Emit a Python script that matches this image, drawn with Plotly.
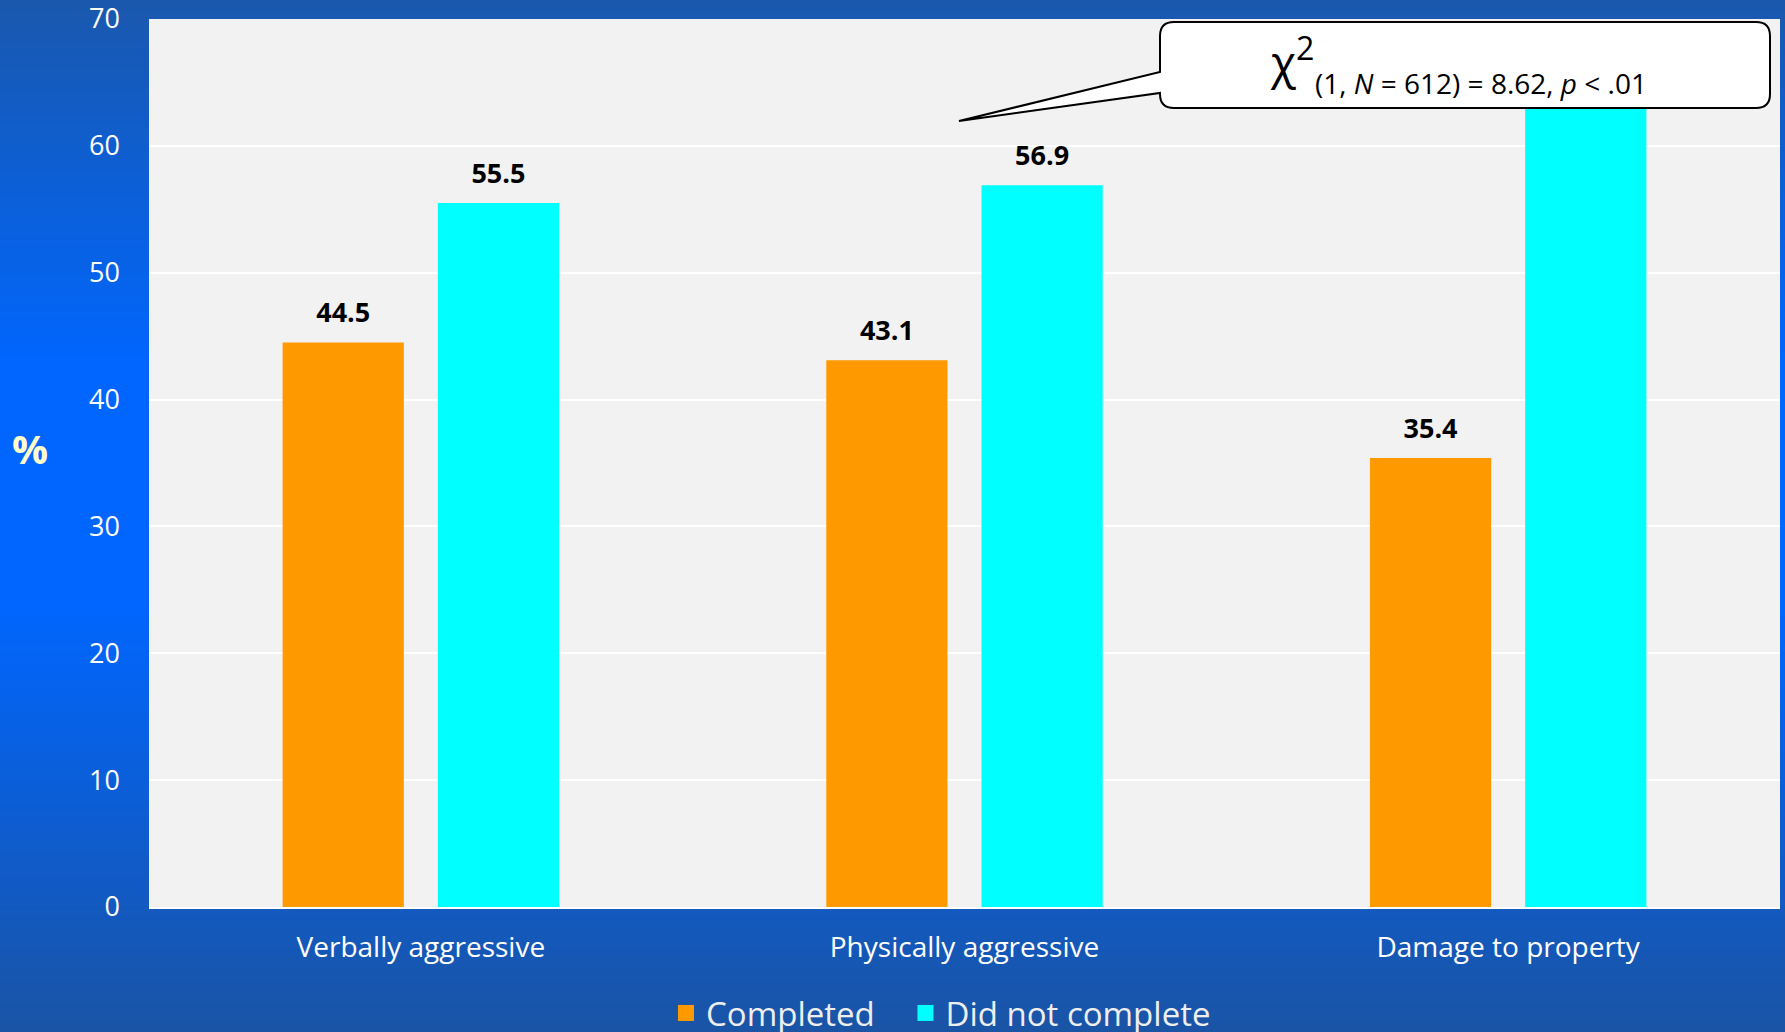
import plotly.graph_objects as go

categories = ["Verbally aggressive", "Physically aggressive", "Damage to property"]
completed = [44.5, 43.1, 35.4]
not_completed = [55.5, 56.9, 64.6]
series_names = ["Completed", "Did not complete"]
series_colors = ["#ff9900", "#00ffff"]
y_ticks = [0, 10, 20, 30, 40, 50, 60, 70]

W_PAGE, H_PAGE = 1785, 1032
PL, PR, PT, PB = 149, 1780, 19, 907
PW, PH = PR - PL, PB - PT


def px(x):
    return (x - PL) / PW


def py(y):
    return (PB - y) / PH


fig = go.Figure()
for i, (vals, name, col) in enumerate(zip([completed, not_completed], series_names, series_colors)):
    fig.add_trace(go.Bar(
        x=categories, y=vals, name=name, showlegend=False, offsetgroup=str(i),
        marker=dict(color=col, line=dict(width=0)),
    ))
for i, (vals, name, col) in enumerate(zip([completed, not_completed], series_names, series_colors)):
    # value labels, grouped like the bars
    fig.add_trace(go.Scatter(
        x=categories, y=vals, mode="markers+text", showlegend=False,
        offsetgroup=str(i), hoverinfo="skip",
        marker=dict(size=20, opacity=0),
        text=[f"{v:.1f}" for v in vals], textposition="top center",
        textfont=dict(family="Open Sans", size=27, color="#000000", weight="bold"),
        cliponaxis=False,
    ))
legend_pad = ["\u00a0\u00a0\u00a0", ""]
for i, (name, col) in enumerate(zip(series_names, series_colors)):
    # legend entries with square swatches
    fig.add_trace(go.Scatter(
        x=[None], y=[None], mode="markers", name=name + legend_pad[i], offsetgroup=str(i),
        marker=dict(symbol="square", size=21, color=col),
    ))

# gradient background bands
shapes = []


def lerp(c1, c2, t):
    return tuple(round(a + (b - a) * t) for a, b in zip(c1, c2))


top_c = (26, 88, 173)
mid_c = (0, 102, 255)
bot_c = (26, 84, 165)
step = 3
y = 0
while y < H_PAGE:
    yc = y + step / 2
    if yc < 367:
        c = lerp(top_c, mid_c, yc / 367)
    elif yc < 602:
        c = mid_c
    else:
        c = lerp(mid_c, bot_c, (yc - 602) / (H_PAGE - 602))
    shapes.append(dict(
        type="rect", xref="paper", yref="paper", layer="below",
        x0=px(-2), x1=px(W_PAGE + 2), y0=py(y + step + 0.5), y1=py(y),
        fillcolor="rgb(%d,%d,%d)" % c, line=dict(width=0),
    ))
    y += step

# plot area background
shapes.append(dict(
    type="rect", xref="paper", yref="paper", layer="below",
    x0=0, x1=1, y0=0, y1=1, fillcolor="#f2f2f2", line=dict(width=0),
))

# callout box with pointer
bl, br, bt, bb, r = 1160, 1770, 22, 108, 14
tip = (959, 121)
w_top, w_bot = 72, 93


def P(x, y):
    return f"{px(x)},{py(y)}"


path = (
    f"M{P(bl + r, bt)} L{P(br - r, bt)} Q{P(br, bt)} {P(br, bt + r)} "
    f"L{P(br, bb - r)} Q{P(br, bb)} {P(br - r, bb)} "
    f"L{P(bl + r, bb)} Q{P(bl, bb)} {P(bl, bb - r)} "
    f"L{P(bl, w_bot)} L{P(*tip)} L{P(bl, w_top)} "
    f"L{P(bl, bt + r)} Q{P(bl, bt)} {P(bl + r, bt)} Z"
)
shapes.append(dict(
    type="path", xref="paper", yref="paper", layer="above", path=path,
    fillcolor="#ffffff", line=dict(color="#000000", width=2),
))

annotations = [
    dict(text="<b>%</b>", xref="paper", yref="paper", x=px(30), y=py(448),
         xanchor="center", yanchor="middle", showarrow=False,
         font=dict(family="Open Sans", size=40, color="#ffffcc")),
    dict(text="χ<sup>2</sup>", xref="paper", yref="paper", x=px(1268), y=py(59),
         xanchor="left", yanchor="middle", showarrow=False,
         font=dict(family="Open Sans", size=46, color="#000000")),
    dict(text="(1, <i>N</i> = 612) = 8.62, <i>p</i> < .01", xref="paper", yref="paper",
         x=px(1313), y=py(83), xanchor="left", yanchor="middle", showarrow=False,
         font=dict(family="Open Sans", size=28, color="#000000")),
]

fig.update_layout(
    width=W_PAGE, height=H_PAGE,
    margin=dict(l=PL, r=W_PAGE - PR, t=PT, b=H_PAGE - PB, pad=0, autoexpand=False),
    paper_bgcolor="#1a58ad", plot_bgcolor="#f2f2f2",
    barmode="group", bargap=0.429, bargroupgap=0.219,
    scattermode="group", scattergap=0.429,
    shapes=shapes, annotations=annotations,
    showlegend=True,
    legend=dict(orientation="h", xref="container", yref="container",
                x=666 / W_PAGE, y=(H_PAGE - 1013) / H_PAGE,
                xanchor="left", yanchor="middle",
                font=dict(family="Open Sans", size=33, color="#eeeeee"),
                bgcolor="rgba(0,0,0,0)", itemwidth=30, tracegroupgap=0,
                itemsizing="trace"),
    font=dict(family="Open Sans"),
)
fig.update_yaxes(range=[0, 70], tickvals=y_ticks, gridcolor="#ffffff", gridwidth=2,
                 zeroline=False, showline=False, ticks="", ticklabelstandoff=28,
                 ticklabeloverflow="allow", automargin=False,
                 tickfont=dict(family="Open Sans", size=27, color="#ffffff"))
fig.update_xaxes(showgrid=False, showline=True, linecolor="#ffffff", linewidth=2,
                 ticks="", ticklabelstandoff=14, automargin=False,
                 tickfont=dict(family="Open Sans", size=28, color="#ffffff"))

fig.write_html("out.html", config={"displayModeBar": False},
               post_script="document.body.style.margin='0px';")
